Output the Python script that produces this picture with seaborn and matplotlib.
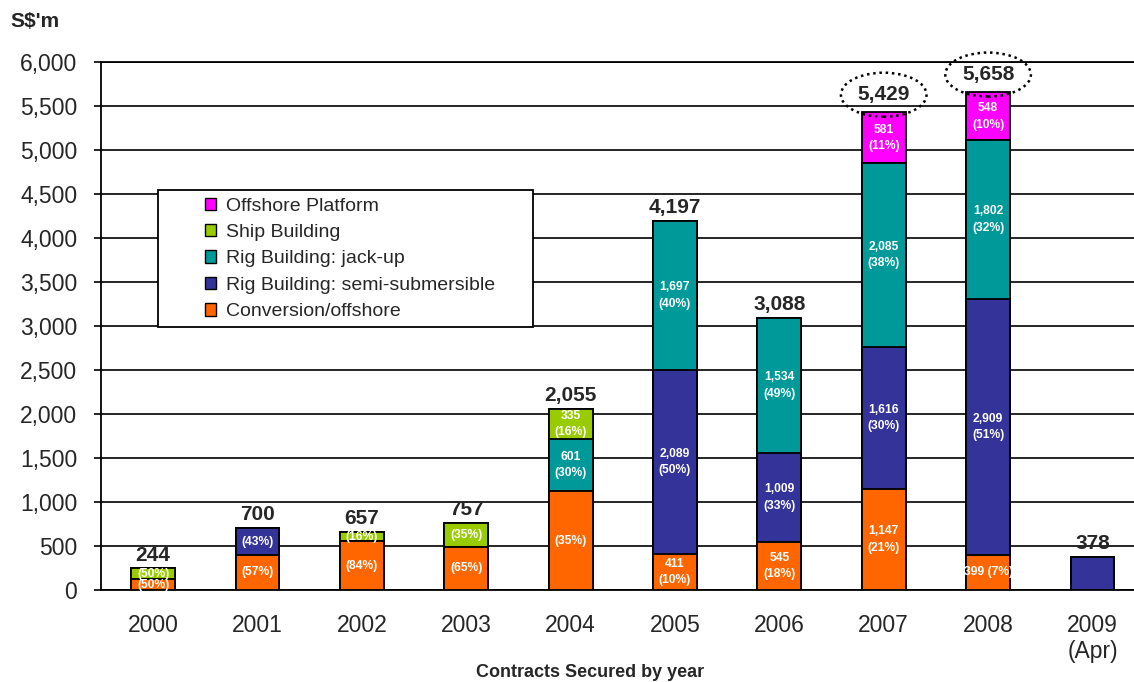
import matplotlib
matplotlib.use('Agg')
import matplotlib.pyplot as plt
from matplotlib.patches import Patch, Ellipse, Rectangle
from matplotlib.ticker import FuncFormatter, MultipleLocator
import numpy as np
import seaborn as sns

# data (S$ million)
years = ['2000', '2001', '2002', '2003', '2004', '2005', '2006', '2007', '2008', '2009\n(Apr)']
conversion = [122, 399, 552, 492, 1119, 411, 545, 1147, 399, 0]
semi_sub = [0, 301, 0, 0, 0, 2089, 1009, 1616, 2909, 378]
jack_up = [0, 0, 0, 0, 601, 1697, 1534, 2085, 1802, 0]
ship = [122, 0, 105, 265, 335, 0, 0, 0, 0, 0]
platform = [0, 0, 0, 0, 0, 0, 0, 581, 548, 0]
totals = [244, 700, 657, 757, 2055, 4197, 3088, 5429, 5658, 378]
total_labels = ['244', '700', '657', '757', '2,055', '4,197', '3,088', '5,429', '5,658', '378']

conv_labels = ['(50%)', '(57%)', '(84%)', '(65%)', '(35%)', '411\n(10%)', '545\n(18%)', '1,147\n(21%)', '399 (7%)', '']
semi_labels = ['', '(43%)', '', '', '', '2,089\n(50%)', '1,009\n(33%)', '1,616\n(30%)', '2,909\n(51%)', '']
jack_labels = ['', '', '', '', '601\n(30%)', '1,697\n(40%)', '1,534\n(49%)', '2,085\n(38%)', '1,802\n(32%)', '']
ship_labels = ['(50%)', '', '(16%)', '(35%)', '335\n(16%)', '', '', '', '', '']
plat_labels = ['', '', '', '', '', '', '', '581\n(11%)', '548\n(10%)', '']
circled = ['2007', '2008']

series = [
    ('Conversion/offshore', conversion, conv_labels, '#FF6600'),
    ('Rig Building: semi-submersible', semi_sub, semi_labels, '#333399'),
    ('Rig Building: jack-up', jack_up, jack_labels, '#009999'),
    ('Ship Building', ship, ship_labels, '#99CC00'),
    ('Offshore Platform', platform, plat_labels, '#FF00FF'),
]

sns.set_style("white")
plt.rcParams['font.family'] = ['Liberation Sans', 'DejaVu Sans']

fig = plt.figure(figsize=(11.34, 6.82), dpi=100)
ax = fig.add_axes([0.089, 0.135, 0.925, 0.774])

# stacked bars drawn as overlapping cumulative sums (tallest first)
cum = np.cumsum([s[1] for s in series], axis=0)
for i in range(len(series) - 1, -1, -1):
    sns.barplot(x=years, y=cum[i], color=series[i][3], saturation=1, width=0.42,
                edgecolor='black', linewidth=1.3, ax=ax, zorder=3)

# segment labels
for i, (name, vals, labs, col) in enumerate(series):
    base = cum[i] - np.array(vals)
    for j, lab in enumerate(labs):
        if lab:
            ax.text(j, base[j] + vals[j] / 2, lab, ha='center', va='center', color='white',
                    fontsize=8.7, fontweight='bold', linespacing=1.5, zorder=5)

# totals
for j, (tot, lab) in enumerate(zip(totals, total_labels)):
    if years[j] in circled:
        ax.text(j, tot + 200, lab, ha='center', va='center', fontsize=15,
                fontweight='bold', zorder=6)
        ax.add_patch(Ellipse((j, tot + 200), 0.82, 500, fill=False, linestyle=(0, (1, 1.5)),
                             linewidth=1.8, edgecolor='black', clip_on=False, zorder=6))
    else:
        ax.text(j, tot + 45, lab, ha='center', va='bottom', fontsize=15,
                fontweight='bold', zorder=6)

ax.set_ylim(0, 6000)
ax.set_xlim(-0.5, 9.55)
ax.yaxis.set_major_locator(MultipleLocator(500))
ax.yaxis.set_major_formatter(FuncFormatter(lambda v, p: f'{int(v):,}'))
ax.yaxis.grid(True, color='black', linewidth=1.2)
ax.set_axisbelow(True)

ax.set_xticks(np.arange(-0.5, 9.5, 1), minor=True)
ax.tick_params(axis='x', which='major', length=0, pad=17, labelsize=16.5)
ax.tick_params(axis='x', which='minor', length=10, width=1.2, color='black', direction='out')
ax.tick_params(axis='y', length=5, width=1.2, color='black', direction='out', labelsize=16.5, pad=12)
ax.tick_params(axis='both', bottom=True, left=True)

for sp in ['left', 'bottom', 'top']:
    ax.spines[sp].set_color('black')
    ax.spines[sp].set_linewidth(1.3)
ax.spines['right'].set_visible(False)

ax.set_xlabel('Contracts Secured by year', fontsize=13, fontweight='bold')
ax.xaxis.set_label_coords(0.466, -0.14)
ax.set_ylabel('')
fig.text(0.009, 0.968, "S$'m", fontsize=15, fontweight='bold', ha='left', va='center')

# legend box
ax.add_patch(Rectangle((0.054, 0.498), 0.358, 0.26, transform=ax.transAxes, facecolor='white',
                       edgecolor='black', linewidth=1.3, zorder=6))
handles = [Patch(facecolor=s[3], edgecolor='black', label=s[0]) for s in reversed(series)]
leg = ax.legend(handles=handles, loc='upper left', bbox_to_anchor=(0.099, 0.743), fontsize=14,
                frameon=False, handlelength=0.6, handleheight=0.6,
                handletextpad=0.5, labelspacing=0.48, borderpad=0, borderaxespad=0)
leg.set_zorder(7)

fig.savefig('out.png', dpi=100)
